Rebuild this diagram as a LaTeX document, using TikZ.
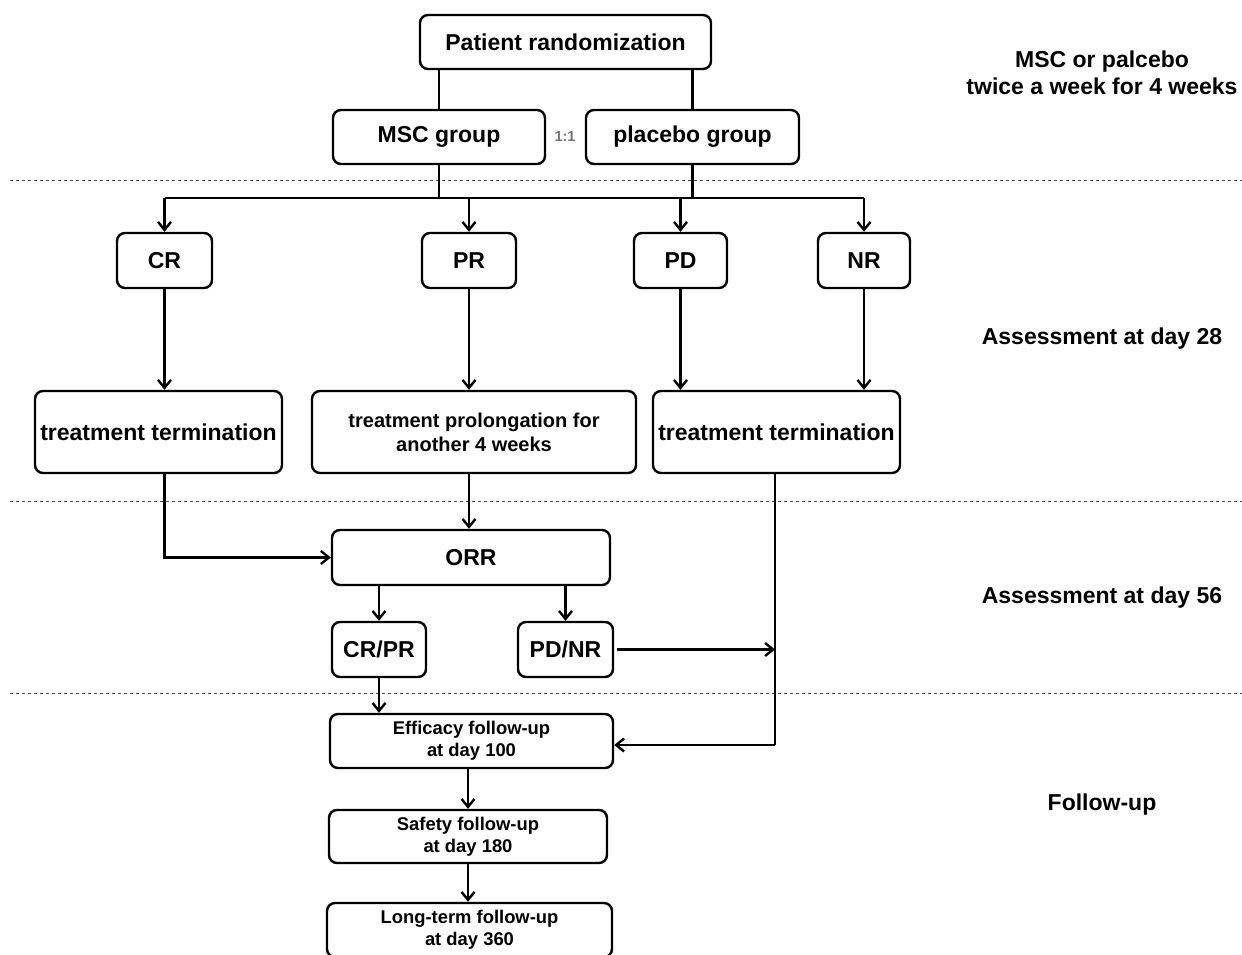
\documentclass[tikz,border=0pt]{standalone}
\usepackage{fontspec}
\setmainfont{Liberation Sans}
\usetikzlibrary{arrows.meta}
\tikzset{
  box/.style={draw=black, line width=2.4pt, rounded corners=8pt, align=center, inner sep=0pt, font=\bfseries\fontsize{23}{27}\selectfont},
  midbox/.style={box, font=\bfseries\fontsize{20}{24}\selectfont},
  smallbox/.style={box, font=\bfseries\fontsize{18.4}{22}\selectfont},
  conn/.style={line width=2.4pt},
  arr/.style={conn, -{Straight Barb[length=8pt,width=13pt]}},
  sep/.style={line width=1pt, black!70, dash pattern=on 3pt off 3pt},
  side/.style={align=center, font=\bfseries\fontsize{23}{27}\selectfont},
}
\begin{document}
\begin{tikzpicture}[x=1pt,y=-1pt]
\useasboundingbox (0,0) rectangle (1242,955);
% separators
\draw[sep] (10,180) -- (1242,180);
\draw[sep] (10,501) -- (1242,501);
\draw[sep] (10,693) -- (1242,693);
% nodes
\node[box, minimum width=291, minimum height=54] (rand) at (565.5,42) {Patient randomization};
\node[box, minimum width=212, minimum height=54] (msc) at (439,137) {MSC group};
\node[box, minimum width=213, minimum height=54] (plac) at (692.5,137) {placebo group};
\node[font=\bfseries\fontsize{14.5}{17}\selectfont, text=black!55] (ratio) at (565,137) {1:1};
\node[box, minimum width=95, minimum height=55] (cr) at (164.5,260.5) {CR};
\node[box, minimum width=94, minimum height=55] (pr) at (469,260.5) {PR};
\node[box, minimum width=93, minimum height=55] (pd) at (680.5,260.5) {PD};
\node[box, minimum width=92, minimum height=55] (nr) at (864,260.5) {NR};
\node[box, minimum width=247, minimum height=82] (tt1) at (158.5,432) {treatment termination};
\node[midbox, minimum width=324, minimum height=82] (prol) at (474,432) {treatment prolongation for\\another 4 weeks};
\node[box, minimum width=247, minimum height=82] (tt2) at (776.5,432) {treatment termination};
\node[box, minimum width=278, minimum height=55] (orr) at (471,557.5) {ORR};
\node[box, minimum width=94, minimum height=55] (crpr) at (379,649.5) {CR/PR};
\node[box, minimum width=95, minimum height=55] (pdnr) at (565.5,649.5) {PD/NR};
\node[smallbox, minimum width=283, minimum height=54] (eff) at (471.5,741) {Efficacy follow-up\\at day 100};
\node[smallbox, minimum width=278, minimum height=53] (saf) at (468,836.5) {Safety follow-up\\at day 180};
\node[smallbox, minimum width=285, minimum height=54] (lt) at (469.5,930) {Long-term follow-up\\at day 360};
% side labels
\node[side] (l1) at (1102,73) {MSC or palcebo\\twice a week for 4 weeks};
\node[side] (l2) at (1102,339) {Assessment at day 28};
\node[side] (l3) at (1102,598) {Assessment at day 56};
\node[side] (l4) at (1102,805) {Follow-up};
% coordinates
\coordinate (bus) at (0,198);
\coordinate (rv) at (775,745);
% connectors
\draw[conn] (msc.north |- rand.south) -- (msc.north);
\draw[conn] (plac.north |- rand.south) -- (plac.north);
\draw[conn] (msc.south) -- (msc.south |- bus);
\draw[conn] (plac.south) -- (plac.south |- bus);
\draw[conn] (cr.north |- bus) -- (nr.north |- bus);
\draw[arr] (cr.north |- bus) -- (cr.north);
\draw[arr] (pr.north |- bus) -- (pr.north);
\draw[arr] (pd.north |- bus) -- (pd.north);
\draw[arr] (nr.north |- bus) -- (nr.north);
\draw[arr] (cr.south) -- (cr.south |- tt1.north);
\draw[arr] (pr.south) -- (pr.south |- prol.north);
\draw[arr] (pd.south) -- (pd.south |- tt2.north);
\draw[arr] (nr.south) -- (nr.south |- tt2.north);
\draw[arr] (cr.south |- tt1.south) |- (orr.west);
\draw[arr] (pr.south |- prol.south) -- (pr.south |- orr.north);
\draw[arr] (crpr.north |- orr.south) -- (crpr.north);
\draw[arr] (pdnr.north |- orr.south) -- (pdnr.north);
\draw[arr] ([xshift=3pt]pdnr.east) -- (pdnr.east -| rv);
\draw[conn] (rv |- tt2.south) -- (rv);
\draw[arr] (rv) -- (eff.east |- rv);
\draw[arr] (crpr.south) -- (crpr.south |- eff.north);
\draw[arr] (saf.north |- eff.south) -- (saf.north);
\draw[arr] (saf.south) -- (saf.south |- lt.north);
\end{tikzpicture}
\end{document}
